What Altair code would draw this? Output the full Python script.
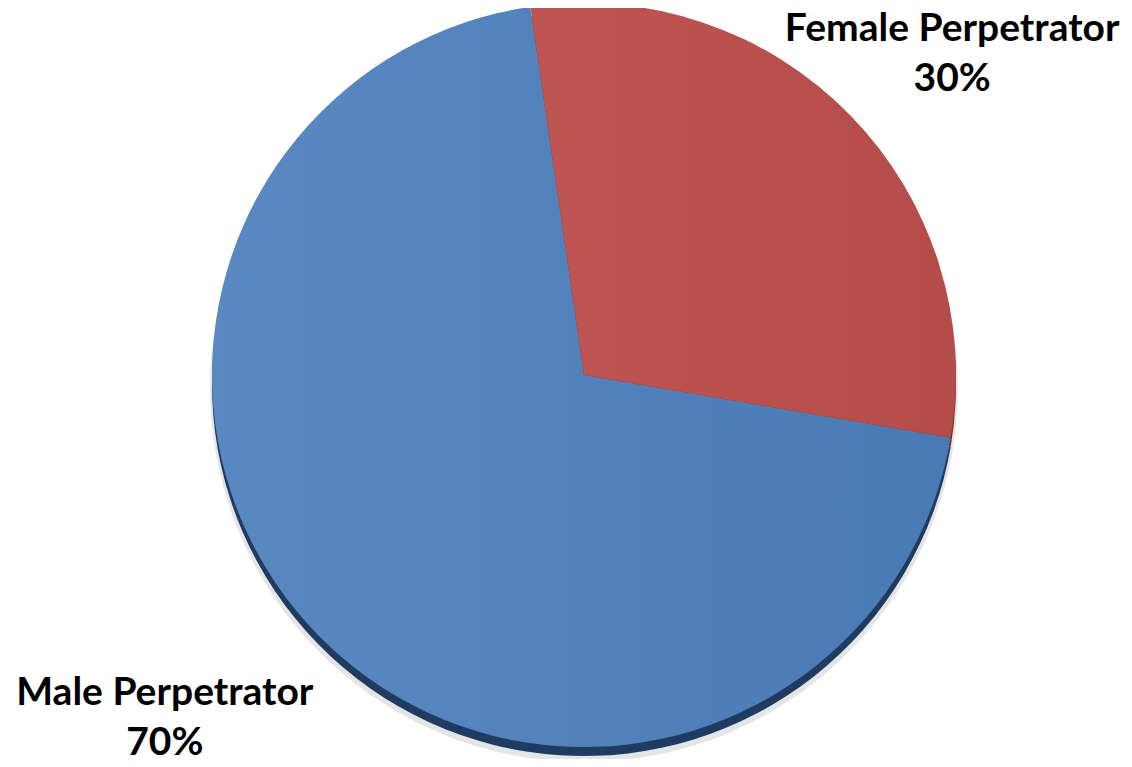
import math
import altair as alt
import pandas as pd

categories = ["Female Perpetrator", "Male Perpetrator"]
values = [30, 70]
pct_labels = ["30%", "70%"]
order = [0, 1]

df = pd.DataFrame({"category": categories, "value": values, "pct": pct_labels, "order": order})

start = math.radians(-8.3)
theta_scale = alt.Scale(domain=[0, 100], range=[start, start + 2 * math.pi])

base = (
    alt.Chart(df)
    .transform_window(cum="sum(value)", sort=[alt.SortField("order")], frame=[None, 0])
    .transform_calculate(
        start_v="datum.cum - datum.value",
        mid_v="datum.cum - datum.value / 2",
        label="datum.category + '\\n' + datum.pct",
    )
)

R = 372

def grad(c1, c2):
    return alt.LinearGradient(
        gradient="linear",
        stops=[alt.GradientStop(color=c1, offset=0), alt.GradientStop(color=c2, offset=1)],
        x1=0, x2=1, y1=0, y2=0,
    )

enc = dict(theta=alt.Theta("start_v:Q", scale=theta_scale), theta2="cum:Q")

shadow = base.mark_arc(radius=R + 2, color="#000000", opacity=0.10, yOffset=13).encode(**enc)
rim_blue = base.transform_filter(alt.datum.category == "Male Perpetrator").mark_arc(
    radius=R, color="#1F3B62", yOffset=9).encode(**enc)
rim_red = base.transform_filter(alt.datum.category == "Female Perpetrator").mark_arc(
    radius=R, color="#7A2C2A", yOffset=9).encode(**enc)
top_blue = base.transform_filter(alt.datum.category == "Male Perpetrator").mark_arc(
    radius=R, color=grad("#5A89C2", "#4A7AB4")).encode(**enc)
top_red = base.transform_filter(alt.datum.category == "Female Perpetrator").mark_arc(
    radius=R, color=grad("#BF5552", "#B44C49")).encode(**enc)

text_common = dict(font="Lato", fontWeight="bold", fontSize=39, lineBreak="\n",
                   lineHeight=50, color="#000000", align="center", baseline="middle")
lab_f = base.transform_filter(alt.datum.category == "Female Perpetrator").mark_text(
    radius=520, dx=-4, dy=17, **text_common).encode(
    theta=alt.Theta("mid_v:Q", scale=theta_scale), text="label:N")
lab_m = base.transform_filter(alt.datum.category == "Male Perpetrator").mark_text(
    radius=520, dx=-47, dy=-45, **text_common).encode(
    theta=alt.Theta("mid_v:Q", scale=theta_scale), text="label:N")

chart = (
    alt.layer(shadow, rim_blue, rim_red, top_blue, top_red, lab_f, lab_m)
    .properties(
        width=1080,
        height=734,
        autosize=alt.AutoSizeParams(type="none"),
        padding={"left": 36, "top": 0, "right": 0, "bottom": 17},
    )
    .configure_view(stroke=None)
    .configure(background="white")
)

chart.save("out.html", embed_options={"renderer": "svg", "actions": False})
